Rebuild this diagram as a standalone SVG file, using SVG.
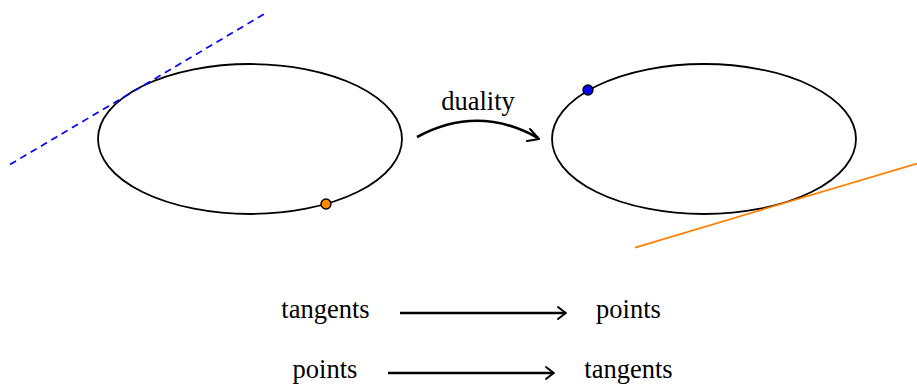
<svg xmlns="http://www.w3.org/2000/svg" width="917" height="385" viewBox="0 0 917 385">
<style>
.t{font-family:"Liberation Serif","Times New Roman",serif;font-size:26.5px;fill:#000}
.ell{fill:none;stroke:#000;stroke-width:1.8}
.arr{fill:none;stroke:#000;stroke-width:2.6}
.head{fill:none;stroke:#000;stroke-width:2;stroke-linecap:round;stroke-linejoin:round}
</style>
<rect width="917" height="385" fill="#fff"/>
<g id="left-ellipse">
<ellipse class="ell" cx="250" cy="139" rx="152" ry="75"/>
<line x1="10" y1="164.5" x2="265" y2="13.5" stroke="#0000ff" stroke-width="1.7" stroke-dasharray="7,5"/>
<circle cx="326" cy="204" r="5" fill="#ff8c00" stroke="#000" stroke-width="1.4"/>
</g>
<g id="right-ellipse">
<ellipse class="ell" cx="704" cy="139" rx="152" ry="75"/>
<line x1="635" y1="247.6" x2="917" y2="163.5" stroke="#ff8000" stroke-width="1.7"/>
<circle cx="588" cy="90" r="5" fill="#0000ff" stroke="#000" stroke-width="1.4"/>
</g>
<g id="labels">
<text class="t" x="478" y="110" text-anchor="middle">duality</text>
<text class="t" x="325.5" y="318" text-anchor="middle">tangents</text>
<text class="t" x="628.5" y="318" text-anchor="middle">points</text>
<text class="t" x="325" y="378" text-anchor="middle">points</text>
<text class="t" x="628.5" y="378" text-anchor="middle">tangents</text>
</g>
<g id="connectors">
<path class="arr" d="M417,137 Q478,104 538,138"/>
<path class="head" d="M530,129 L539,139 L527,141"/>
<line class="arr" x1="400" y1="313" x2="565" y2="313"/>
<path class="head" d="M558,307 Q563,311 566,313 Q563,315 558,319"/>
<line class="arr" x1="388" y1="373" x2="553" y2="373"/>
<path class="head" d="M546,367 Q551,371 554,373 Q551,375 546,379"/>
</g>
</svg>
